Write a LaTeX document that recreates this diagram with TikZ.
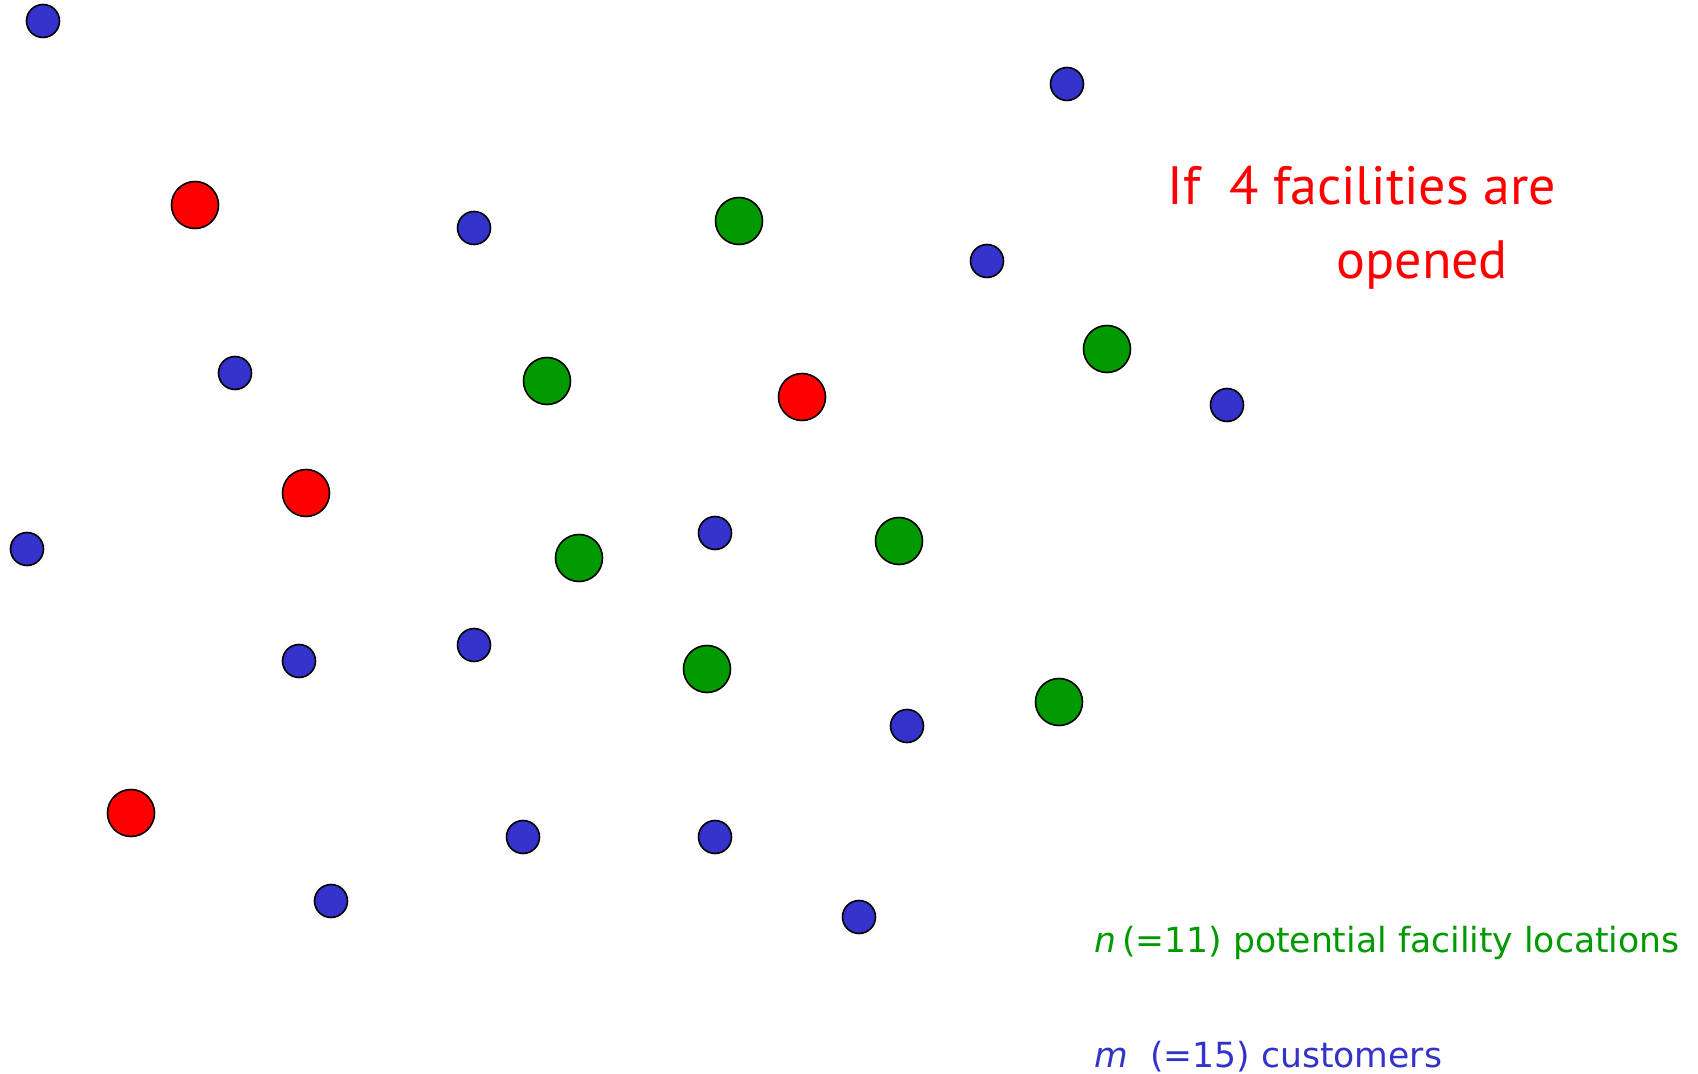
\documentclass[tikz,border=0pt]{standalone}
\usepackage{fontspec}
\setmainfont{Open Sans}
\newfontfamily\titlefont{PT Sans}
\newfontfamily\legendfont{DejaVu Sans}
\usepackage{xcolor}
\usepackage{tikz}
\usetikzlibrary{positioning}
\definecolor{custblue}{RGB}{51,51,204}
\definecolor{facgreen}{RGB}{0,153,0}
\definecolor{openred}{RGB}{255,0,0}

\begin{document}
\begin{tikzpicture}[
  x=0.5pt, y=-0.5pt,
  customer/.style={circle, draw=black, thick, fill=custblue, minimum size=16.5pt, inner sep=0pt},
  facility/.style={circle, draw=black, thick, fill=facgreen, minimum size=23.5pt, inner sep=0pt},
  opened/.style={facility, fill=openred},
  title/.style={anchor=base west, inner sep=0pt, openred, font=\titlefont\fontsize{27}{32}\selectfont},
  legend/.style={anchor=base west, inner sep=0pt, font=\legendfont\fontsize{17.3}{21}\selectfont}
]
\useasboundingbox (0,0) rectangle (1698,1074);

% Customers
\foreach \x/\y/\k in {43/21/1, 1067/84/2, 474/228/3, 987/261/4, 235/373/5,
  1227/405/6, 27/549/7, 715/533/8, 299/661/9, 474/645/10, 907/726/11,
  523/837/12, 715/837/13, 331/901/14, 859/917/15}{
  \node[customer] (c\k) at (\x,\y) {};
}

% Potential facility locations
\foreach \x/\y/\k in {739/221/1, 1107/349/2, 547/381/3, 899/541/4,
  579/558/5, 707/669/6, 1059/702/7}{
  \node[facility] (f\k) at (\x,\y) {};
}

% Opened facilities
\foreach \x/\y/\k in {195/205/8, 802/397/9, 306/493/10, 131/813/11}{
  \node[opened] (f\k) at (\x,\y) {};
}

% Labels
\node[title] (title) at (1167,205) {If\ \ 4 facilities are};
\node[title] (title2) at (1336,279) {opened};
\node[legend, facgreen] (nlab) at (1094,952) {\textit{n}\,(=11) potential facility locations};
\node[legend, custblue] (mlab) at (1094,1067) {\textit{m}\ \ (=15) customers};

\end{tikzpicture}
\end{document}
